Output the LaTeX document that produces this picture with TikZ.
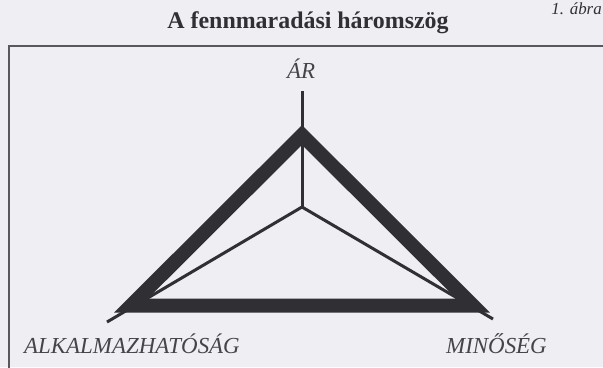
\documentclass[tikz,border=0pt]{standalone}
\usepackage{fontspec}
\setmainfont{Liberation Serif}
\definecolor{paper}{RGB}{238,238,243}
\definecolor{ink}{RGB}{48,48,52}
\begin{document}
\begin{tikzpicture}[x=1bp,y=-1bp,
  thick edge/.style={draw=ink,line width=14bp,line join=miter},
  thin edge/.style={draw=ink,line width=3bp},
  frame/.style={draw=ink!80,line width=2.6bp},
  corner label/.style={text=ink!90,font=\itshape\fontsize{23}{23}\selectfont,inner sep=0pt,anchor=base}]
\fill[paper] (0,0) rectangle (603,367);
\useasboundingbox (0,0) rectangle (603,367);
\clip (0,0) rectangle (603,367);
% frame
\draw[frame] (620,46) -- (9,46) -- (9,380);
% title
\node[text=ink,font=\bfseries\fontsize{24}{24}\selectfont,inner sep=0pt,anchor=base] (title) at (308,28) {A fennmaradási háromszög};
\node[text=ink,font=\itshape\fontsize{17}{17}\selectfont,inner sep=0pt,anchor=base east] (fig) at (602,14) {1. ábra};
% vertices
\coordinate (A) at (302,135);
\coordinate (L) at (131,305.5);
\coordinate (R) at (473,305.5);
\coordinate (C) at (302,207);
\coordinate (At) at (302,91);
\coordinate (Lt) at (107,322);
\coordinate (Rt) at (493,319);
% thick triangle
\draw[thick edge] (A) -- (L) -- (R) -- cycle;
% thin spokes
\draw[thin edge] (C) -- (At);
\draw[thin edge] (C) -- (Lt);
\draw[thin edge] (C) -- (Rt);
% labels
\node[corner label] (ar) at (301,78) {ÁR};
\node[corner label,anchor=base west] (alk) at (24,353) {ALKALMAZHATÓSÁG};
\node[corner label,anchor=base west] (min) at (446,353) {MINŐSÉG};
\end{tikzpicture}
\end{document}
